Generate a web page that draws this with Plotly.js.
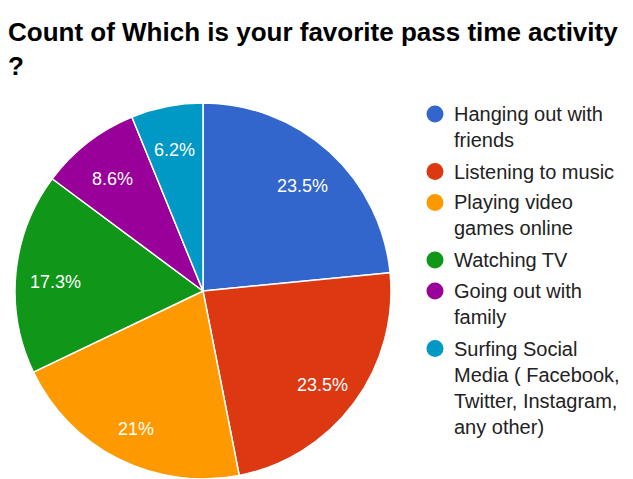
<!DOCTYPE html>
<html>
<head>
<meta charset="utf-8">
<script src="https://cdn.plot.ly/plotly-3.0.1.min.js"></script>
<style>html,body{margin:0;padding:0;background:#fff;}#chart{width:633px;height:479px;}</style>
</head>
<body>
<div id="chart"></div>
<script>
const categories = [
  "Hanging out with friends",
  "Listening to music",
  "Playing video games online",
  "Watching TV",
  "Going out with family",
  "Surfing Social Media ( Facebook, Twitter, Instagram, any other)"
];
const legendLabels = [
  ["Hanging out with", "friends"],
  ["Listening to music"],
  ["Playing video", "games online"],
  ["Watching TV"],
  ["Going out with", "family"],
  ["Surfing Social", "Media ( Facebook,", "Twitter, Instagram,", "any other)"]
];
const counts = [19, 19, 17, 14, 7, 5];
const colors = ["#3366cc", "#dc3912", "#ff9900", "#109618", "#990099", "#0099c6"];
const titleText = "Count of Which is your favorite pass time activity<br>?";

const total = counts.reduce((a, b) => a + b, 0);
const pctText = counts.map(v => {
  let s = (v / total * 100).toFixed(1);
  s = s.replace(/\.0$/, "");
  return s + "%";
});

const W = 633, H = 479;
const cx = 203, cy = 291, R = 188;
const pie = {
  type: "pie",
  labels: categories,
  values: counts,
  textinfo: "none",
  sort: false,
  direction: "clockwise",
  rotation: 0,
  marker: {colors: colors, line: {color: "#ffffff", width: 1.5}},
  domain: {x: [(cx - R) / W, (cx + R) / W], y: [1 - (cy + R) / H, 1 - (cy - R) / H]},
  showlegend: false,
  hoverinfo: "label+value+percent"
};

const annotations = [];
const shapes = [];

// Percent labels placed at each slice's mid-angle
let cum = 0;
counts.forEach((v, i) => {
  const mid = (cum + v / 2) / total * 2 * Math.PI;
  cum += v;
  const r = 0.79 * R;
  const px = cx + r * Math.sin(mid);
  const py = cy - r * Math.cos(mid) + 5;
  annotations.push({
    xref: "paper", yref: "paper",
    x: px / W, y: 1 - py / H,
    xanchor: "center", yanchor: "middle",
    showarrow: false, borderpad: 0,
    text: pctText[i],
    font: {family: "Liberation Sans, Arial, sans-serif", size: 18, color: "#ffffff"}
  });
});

// Legend built from annotations and circle shapes
let baseline = 121;
const lineH = 26.5;
legendLabels.forEach((lines, i) => {
  const top = baseline - 19;
  annotations.push({
    xref: "paper", yref: "paper",
    x: 453 / W, y: 1 - top / H,
    xanchor: "left", yanchor: "top",
    align: "left",
    showarrow: false,
    borderpad: 0,
    text: lines.join("<br>"),
    font: {family: "Liberation Sans, Arial, sans-serif", size: 20, color: "#222222"}
  });
  const my = baseline - 7;
  shapes.push({
    type: "circle", xref: "paper", yref: "paper",
    x0: (435 - 8.5) / W, x1: (435 + 8.5) / W,
    y0: 1 - (my + 8.5) / H, y1: 1 - (my - 8.5) / H,
    fillcolor: colors[i], line: {width: 0}
  });
  baseline += lines.length * lineH + 4.5;
});

const layout = {
  width: W, height: H,
  margin: {l: 0, r: 0, t: 0, b: 0},
  paper_bgcolor: "#ffffff",
  title: {
    text: titleText,
    font: {family: "Liberation Sans, Arial, sans-serif", size: 26, color: "#000000", weight: "bold"},
    xref: "container", yref: "container",
    x: 8 / W, xanchor: "left",
    y: 1 - 41 / H, yanchor: "top"
  },
  annotations: annotations,
  shapes: shapes
};

Plotly.newPlot("chart", [pie], layout, {displayModeBar: false, staticPlot: true});
</script>
</body>
</html>
